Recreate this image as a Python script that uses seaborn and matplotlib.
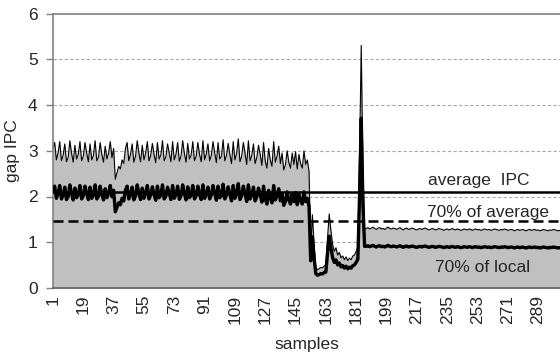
import numpy as np
import pandas as pd
import matplotlib
matplotlib.use("Agg")
import matplotlib.pyplot as plt
import seaborn as sns

# Gap IPC per sample, split by program phase
ipc_phase1 = [3.05, 3.18, 2.80, 2.95, 3.20, 2.78, 2.90, 3.15, 2.76, 2.85,
              3.22, 2.95, 2.75, 3.12, 2.82, 2.92, 3.20, 2.78, 2.88, 3.18,
              2.95, 2.76, 3.15, 2.80, 2.90, 3.22, 2.78, 2.86, 3.18, 2.92,
              2.75, 3.10, 2.82, 2.95, 3.20, 2.85, 3.05]
ipc_dip = [2.38, 2.52, 2.66, 2.60, 2.80, 2.72, 3.05]
ipc_phase2 = [3.18, 2.78, 2.92, 3.15, 2.75, 2.88, 3.22, 2.95, 2.76, 3.12,
              2.80, 2.95, 3.20, 2.78, 2.90, 3.16, 2.92, 2.74, 3.18, 2.82,
              2.90, 3.22, 2.78, 2.86, 3.15, 2.95, 2.76, 3.20, 2.80, 2.92,
              3.18, 2.77, 2.88, 3.22, 2.94, 2.75, 3.16, 2.82, 2.90, 3.20,
              2.78, 2.88, 3.18, 2.92, 2.76, 3.22, 2.80, 2.93, 3.15, 2.78,
              2.90, 3.20, 2.95, 2.74, 3.18, 2.82, 2.88, 3.24, 2.78, 2.90,
              3.16, 2.92, 2.72, 3.20, 2.80, 2.94, 3.26, 2.76, 2.88, 3.18,
              2.95, 2.70, 3.22, 2.78, 2.90, 3.15, 2.72, 2.85, 3.12, 2.92,
              2.68, 3.18, 2.78, 2.62, 3.05, 2.80, 2.66, 3.20, 2.75, 2.88,
              3.10, 2.72, 2.95, 2.58, 2.70, 3.00]
ipc_phase2_end = [2.75, 2.62, 2.95, 2.70, 2.98, 2.60, 2.92, 2.72, 2.62, 3.00,
                  2.70, 2.80, 2.55]
ipc_transition = [0.85, 1.60, 0.95, 0.45, 0.40, 0.42, 0.45, 0.44, 0.48, 0.50,
                  1.10, 1.62, 1.25, 0.95, 0.80, 0.88, 0.72, 0.78, 0.66, 0.70,
                  0.62, 0.68, 0.60, 0.65, 0.62, 0.70, 0.72, 0.80, 0.90, 2.90,
                  5.30, 2.60, 1.30]
ipc_phase3 = [1.30, 1.32, 1.29, 1.31, 1.33, 1.30, 1.28, 1.31, 1.32, 1.29,
              1.30, 1.28, 1.31, 1.33, 1.30, 1.29, 1.31, 1.30, 1.28, 1.30,
              1.32, 1.29, 1.27, 1.30, 1.31, 1.28, 1.29, 1.31, 1.30, 1.28,
              1.27, 1.29, 1.30, 1.28, 1.30, 1.31, 1.29, 1.27, 1.28, 1.30,
              1.29, 1.27, 1.28, 1.30, 1.29, 1.28, 1.26, 1.28, 1.29, 1.27,
              1.28, 1.30, 1.28, 1.27, 1.29, 1.28, 1.26, 1.27, 1.29, 1.28,
              1.27, 1.29, 1.28, 1.26, 1.28, 1.29, 1.27, 1.28, 1.26, 1.27,
              1.29, 1.28, 1.27, 1.28, 1.26, 1.27, 1.29, 1.28, 1.27, 1.26,
              1.28, 1.27, 1.29, 1.28, 1.26, 1.27, 1.28, 1.27, 1.25, 1.27,
              1.28, 1.26, 1.27, 1.28, 1.26, 1.25, 1.27, 1.28, 1.26, 1.27,
              1.28, 1.26, 1.27, 1.25, 1.26, 1.28, 1.27, 1.26, 1.25, 1.27,
              1.26, 1.28, 1.27, 1.26, 1.25, 1.26]

average_ipc = 2.10
local_fraction = 0.70
average_fraction = 0.70

x_tick_labels = [1, 19, 37, 55, 73, 91, 109, 127, 145, 163, 181, 199, 217, 235, 253, 271, 289]
y_ticks = [0, 1, 2, 3, 4, 5, 6]

gap_ipc = np.array(ipc_phase1 + ipc_dip + ipc_phase2 + ipc_phase2_end
                   + ipc_transition + ipc_phase3)
samples = np.arange(1, len(gap_ipc) + 1)
df = pd.DataFrame({"sample": samples,
                   "gap_ipc": gap_ipc,
                   "local70": local_fraction * gap_ipc})

sns.set_style("white")
plt.rcParams["font.family"] = ["Liberation Sans", "DejaVu Sans"]

fig = plt.figure(figsize=(5.6, 3.54), dpi=100)
ax = fig.add_axes([53 / 560, 1 - 288 / 354, 1 - 53 / 560, (288 - 13.5) / 354])

# grid behind the area
for yv in y_ticks[1:-1]:
    ax.axhline(yv, color="#a8a8a8", lw=0.8, ls=(0, (3, 2)), zorder=0)

ax.fill_between(df["sample"], 0, df["gap_ipc"], color="#c0c0c0", lw=0, zorder=1)
sns.lineplot(data=df, x="sample", y="gap_ipc", ax=ax, color="black", lw=0.8, zorder=2)
sns.lineplot(data=df, x="sample", y="local70", ax=ax, color="black", lw=2.4, zorder=3)

ax.axhline(average_ipc, color="black", lw=1.8, zorder=4)
ax.axhline(average_fraction * average_ipc, color="black", lw=1.8,
           ls=(0, (4, 2)), zorder=4)

ax.text(254, 2.36, "average  IPC", fontsize=12.5, ha="center", va="center")
ax.text(259, 1.66, "70% of average", fontsize=12.5, ha="center", va="center")
ax.text(256, 0.44, "70% of local", fontsize=12.5, ha="center", va="center")

ax.set_xlim(1, len(gap_ipc))
ax.set_ylim(0, 6)
ax.set_xticks(x_tick_labels)
ax.set_xticklabels([str(v) for v in x_tick_labels], rotation=90, fontsize=12.5)
ax.set_yticks(y_ticks)
ax.set_yticklabels([str(v) for v in y_ticks], fontsize=12.5)
ax.tick_params(axis="x", length=0, pad=5)
ax.tick_params(axis="y", length=5, width=1, color="#808080", pad=6, left=True)

ax.set_xlabel("samples", fontsize=12.5, labelpad=9)
ax.set_ylabel("gap IPC", fontsize=12.5, labelpad=6)

for side in ["left", "bottom", "top"]:
    ax.spines[side].set_visible(True)
    ax.spines[side].set_color("#808080")
    ax.spines[side].set_linewidth(1.2)
ax.spines["bottom"].set_color("#606060")
ax.spines["right"].set_visible(False)

fig.savefig("out.png", dpi=100)
